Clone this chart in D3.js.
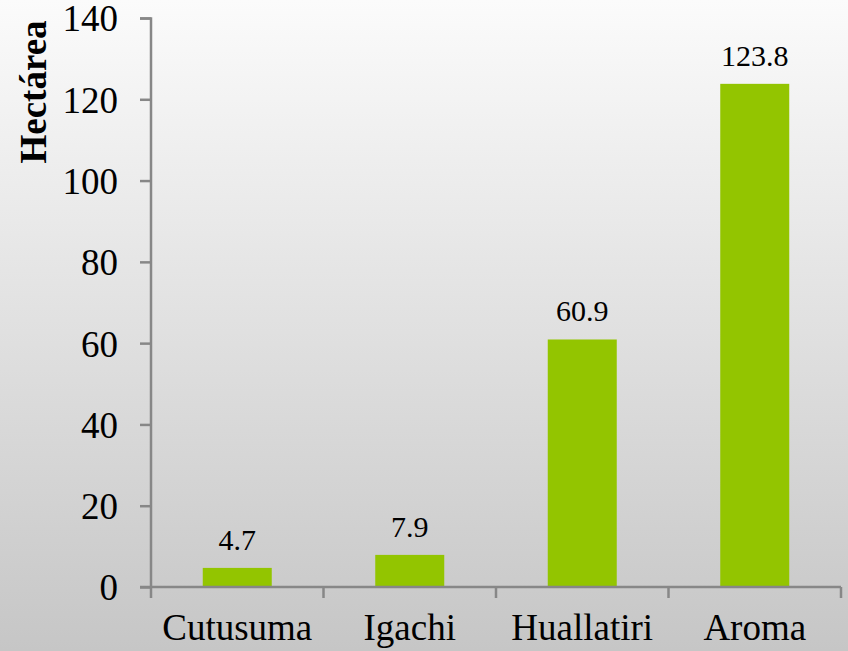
<!DOCTYPE html>
<html>
<head>
<meta charset="utf-8">
<script src="https://cdn.jsdelivr.net/npm/d3@7"></script>
<style>
  html, body { margin: 0; padding: 0; }
  svg { display: block; }
  text { font-family: "Liberation Serif", Tinos, "Times New Roman", Times, "DejaVu Serif", serif; }
</style>
</head>
<body>
<svg id="chart"></svg>
<script>
const categories = ['Cutusuma', 'Igachi', 'Huallatiri', 'Aroma'];
const values = [4.7, 7.9, 60.9, 123.8];
const yTicks = [0, 20, 40, 60, 80, 100, 120, 140];
const yLabel = 'Hectárea';

const W = 848, H = 651;
const margin = {top: 18, right: 7, bottom: 64, left: 151};
const width = W - margin.left - margin.right;
const height = H - margin.top - margin.bottom;

const svg = d3.select('#chart').attr('width', W).attr('height', H);

// background gradient, light at top, grey at bottom
const defs = svg.append('defs');
const grad = defs.append('linearGradient')
    .attr('id', 'bg').attr('x1', 0).attr('y1', 0).attr('x2', 0).attr('y2', 1);
grad.append('stop').attr('offset', '0%').attr('stop-color', '#fbfbfb');
grad.append('stop').attr('offset', '100%').attr('stop-color', '#c6c6c6');
svg.append('rect').attr('width', W).attr('height', H).attr('fill', 'url(#bg)');

const g = svg.append('g').attr('transform', `translate(${margin.left},${margin.top})`);

const x = d3.scaleBand().domain(categories).range([0, width]).paddingInner(0.6).paddingOuter(0.3);
const xEdge = d3.scaleLinear().domain([0, categories.length]).range([0, width]);
const y = d3.scaleLinear().domain([0, 140]).range([height, 0]);

const axisColor = '#878787';

// bars
g.selectAll('.bar').data(values).enter().append('rect')
    .attr('class', 'bar')
    .attr('x', (d, i) => x(categories[i]))
    .attr('width', x.bandwidth())
    .attr('y', d => y(d))
    .attr('height', d => y(0) - y(d))
    .attr('fill', '#93c500');

// value labels
g.selectAll('.val').data(values).enter().append('text')
    .attr('x', (d, i) => x(categories[i]) + x.bandwidth() / 2)
    .attr('y', d => y(d) - 18)
    .attr('text-anchor', 'middle')
    .style('font-size', '30px').attr('fill', '#000')
    .text(d => d);

// y axis
const yAxis = d3.axisLeft(y).tickValues(yTicks).tickSize(11).tickPadding(22);
const ya = g.append('g').call(yAxis);
ya.attr('font-family', null).attr('font-size', null);
ya.selectAll('text').style('font-size', '37px').attr('fill', '#000').attr('dy', '0.35em');
ya.selectAll('line, path').attr('stroke', axisColor).attr('stroke-width', 2.5);
ya.select('.domain').attr('d', `M-11,0.5H0V${height}`);

// x axis with boundary ticks
const xa = g.append('g').attr('transform', `translate(0,${height})`);
xa.append('line').attr('x1', -11).attr('x2', width).attr('y1', 0).attr('y2', 0)
    .attr('stroke', axisColor).attr('stroke-width', 2.5);
xa.selectAll('.tk').data(d3.range(categories.length + 1)).enter().append('line')
    .attr('x1', d => xEdge(d)).attr('x2', d => xEdge(d))
    .attr('y1', 0).attr('y2', 11)
    .attr('stroke', axisColor).attr('stroke-width', 2.5);
xa.selectAll('.lbl').data(categories).enter().append('text')
    .attr('x', d => x(d) + x.bandwidth() / 2)
    .attr('y', 53)
    .attr('text-anchor', 'middle')
    .style('font-size', '37px').attr('fill', '#000')
    .text(d => d);

// y label
svg.append('text')
    .attr('transform', 'translate(46,92) rotate(-90)')
    .attr('text-anchor', 'middle')
    .style('font-size', '37px').attr('font-weight', 'bold').attr('fill', '#000')
    .text(yLabel);
</script>
</body>
</html>
